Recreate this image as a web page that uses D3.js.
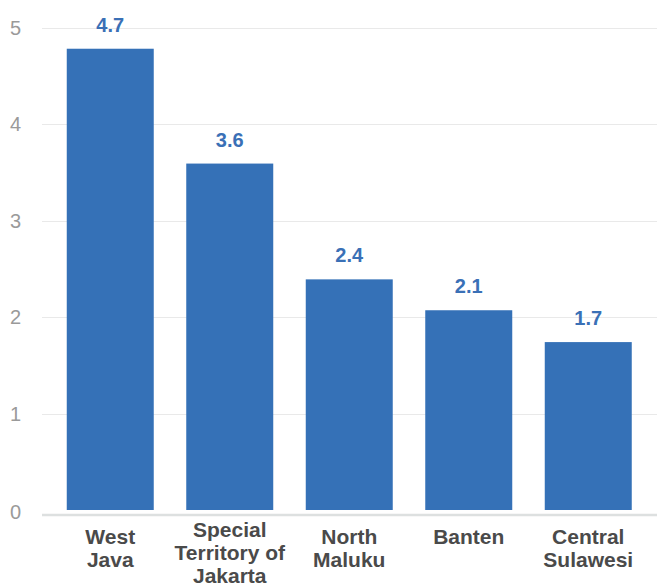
<!DOCTYPE html>
<html>
<head>
<meta charset="utf-8">
<script src="https://cdn.jsdelivr.net/npm/d3@7"></script>
<style>
html,body{margin:0;padding:0;background:#fff;}
svg{display:block;font-family:"Liberation Sans",Arial,Helvetica,sans-serif;}
</style>
</head>
<body>
<svg id="chart" width="657" height="585"></svg>
<script>
const categories = [["West","Java"],["Special","Territory of","Jakarta"],["North","Maluku"],["Banten"],["Central","Sulawesi"]];
const values = [4.78, 3.59, 2.39, 2.07, 1.74];
const valueLabels = ["4.7", "3.6", "2.4", "2.1", "1.7"];
const yTicks = [0, 1, 2, 3, 4, 5];

const svg = d3.select("#chart");
const W = 657, H = 585;
const x = d3.scaleBand().domain(categories.map((c,i)=>i)).range([50.5, 648]).paddingInner(0.272).paddingOuter(0.136);
const y = d3.scaleLinear().domain([0,5]).range([510, 27.5]);

// grid
svg.append("g").selectAll("line").data(yTicks.filter(t=>t>0)).join("line")
  .attr("x1", 42).attr("x2", W)
  .attr("y1", d=>Math.round(y(d))+0.5).attr("y2", d=>Math.round(y(d))+0.5)
  .attr("stroke", "#e9e9e9").attr("stroke-width", 1);

// baseline
svg.append("line").attr("x1", 42).attr("x2", W)
  .attr("y1", y(0)+5).attr("y2", y(0)+5)
  .attr("stroke", "#dde0e0").attr("stroke-width", 2.5);

// y tick labels
svg.append("g").selectAll("text").data(yTicks).join("text")
  .attr("x", 21).attr("y", d=>y(d)+ (d===0?2:0))
  .attr("dy", "0.35em").attr("text-anchor", "end")
  .attr("font-size", 20).attr("fill", "#9a9a9a")
  .text(d=>d);

// bars
svg.append("g").selectAll("rect").data(values).join("rect")
  .attr("x", (d,i)=>x(i)).attr("width", x.bandwidth())
  .attr("y", d=>y(d)).attr("height", d=>y(0)-y(d))
  .attr("fill", "#3571b7");

// value labels
svg.append("g").selectAll("text").data(values).join("text")
  .attr("x", (d,i)=>x(i)+x.bandwidth()/2)
  .attr("y", d=>y(d)-17)
  .attr("text-anchor", "middle")
  .attr("font-size", 20).attr("font-weight", "bold").attr("fill", "#3a70b6")
  .text((d,i)=>valueLabels[i]);

// category labels
const cat = svg.append("g").selectAll("text").data(categories).join("text")
  .attr("text-anchor", "middle")
  .attr("font-size", 21).attr("font-weight", "bold").attr("fill", "#4a4a4a")
  .attr("transform", (d,i)=>`translate(${x(i)+x.bandwidth()/2},${d.length>2?537:543.5})`);
cat.selectAll("tspan").data(d=>d).join("tspan")
  .attr("x", 0).attr("dy", (d,i)=>i===0?0:23)
  .text(d=>d);
</script>
</body>
</html>
